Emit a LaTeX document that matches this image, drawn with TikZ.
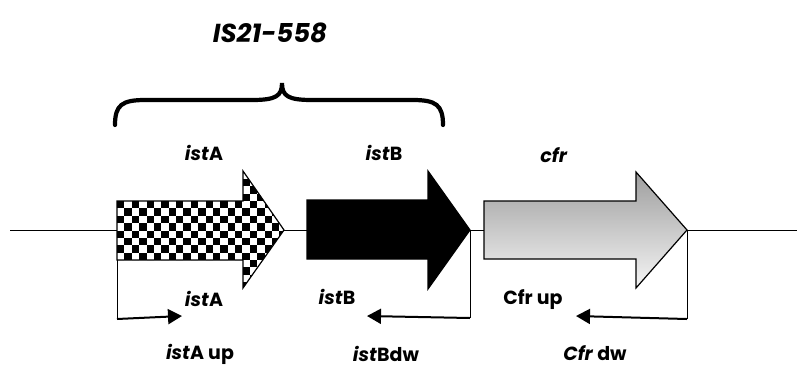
\documentclass[tikz,border=0pt]{standalone}
\usepackage{fontspec}
\setmainfont{Poppins}
\usetikzlibrary{arrows.meta}
\begin{document}
\begin{tikzpicture}[x=1pt,y=-1pt,
  lbl/.style={font=\bfseries\fontsize{19}{21}\selectfont, inner sep=0pt},
  ttl/.style={font=\bfseries\itshape\fontsize{26}{28}\selectfont, inner sep=0pt},
  gene/.style={draw=black, line width=1.2pt, line join=miter},
  primer/.style={line width=2pt, -{Triangle[length=14pt,width=15pt]}},
  riser/.style={line width=1pt},
  dna/.style={line width=1pt}]
\useasboundingbox (0,0) rectangle (801,368);
% DNA line
\coordinate (L) at (10,230);
\coordinate (R) at (797,230);
\draw[dna] (L) -- (R);
% istA checkered arrow
\def\istApath{(117,201) -- (243,201) -- (243,171) -- (284,230) -- (243,288) -- (243,260) -- (117,260) -- cycle}
\fill[white] \istApath;
\begin{scope}
  \clip \istApath;
  \foreach \i in {0,...,23}{
    \foreach \j in {-5,...,12}{
      \pgfmathtruncatemacro{\cpar}{mod(\i+\j+100,2)}
      \ifnum\cpar=0
        \fill[black] ({117+\i*7.375},{201+\j*7.375}) rectangle ++(7.375,7.375);
      \fi
    }
  }
\end{scope}
\draw[gene] \istApath;
% istB black arrow
\draw[gene, fill=black] (307,200) -- (428,200) -- (428,171) -- (470,230) -- (428,289) -- (428,259) -- (307,259) -- cycle;
% cfr gray arrow
\draw[gene, top color=black!38, bottom color=black!4] (484,201) -- (636,201) -- (636,172) -- (687,230) -- (636,288) -- (636,259) -- (484,259) -- cycle;
% gene end coordinates
\coordinate (aS) at (117,260);
\coordinate (aSb) at (117,319);
\coordinate (aP) at (182,316);
\coordinate (bE) at (470,231);
\coordinate (bEb) at (470,318);
\coordinate (bP) at (367,316);
\coordinate (cE) at (687,231);
\coordinate (cEb) at (687,319);
\coordinate (cP) at (576,316);
% primers
\draw[riser] (aS) -- (aSb);
\draw[primer] (aSb) -- (aP);
\draw[riser] (bE) -- (bEb);
\draw[primer] (bEb) -- (bP);
\draw[riser] (cE) -- (cEb);
\draw[primer] (cEb) -- (cP);
% brace
\draw[line width=4.2pt, line cap=round] (115,125) .. controls (115,105) and (122,100) .. (145,100) -- (252,100) .. controls (276,100) and (282,96) .. (282,83) .. controls (282,96) and (288,100) .. (312,100) -- (413,100) .. controls (436,100) and (443,105) .. (443,125);
% labels
\node[ttl] (title) at (270,33) {IS21-558};
\node[lbl] (tA) at (204,153) {\textit{ist}A};
\node[lbl] (tB) at (384,153) {\textit{ist}B};
\node[lbl] (tC) at (554,155) {\textit{cfr}};
\node[lbl] (lA) at (204,299) {\textit{ist}A};
\node[lbl] (lB) at (337,297) {\textit{ist}B};
\node[lbl] (lC) at (533,300) {Cfr up};
\node[lbl] (bA) at (200,354) {\textit{ist}A up};
\node[lbl] (bB) at (386,354) {\textit{ist}Bdw};
\node[lbl] (bC) at (595,353) {\textit{Cfr} dw};
\end{tikzpicture}
\end{document}
